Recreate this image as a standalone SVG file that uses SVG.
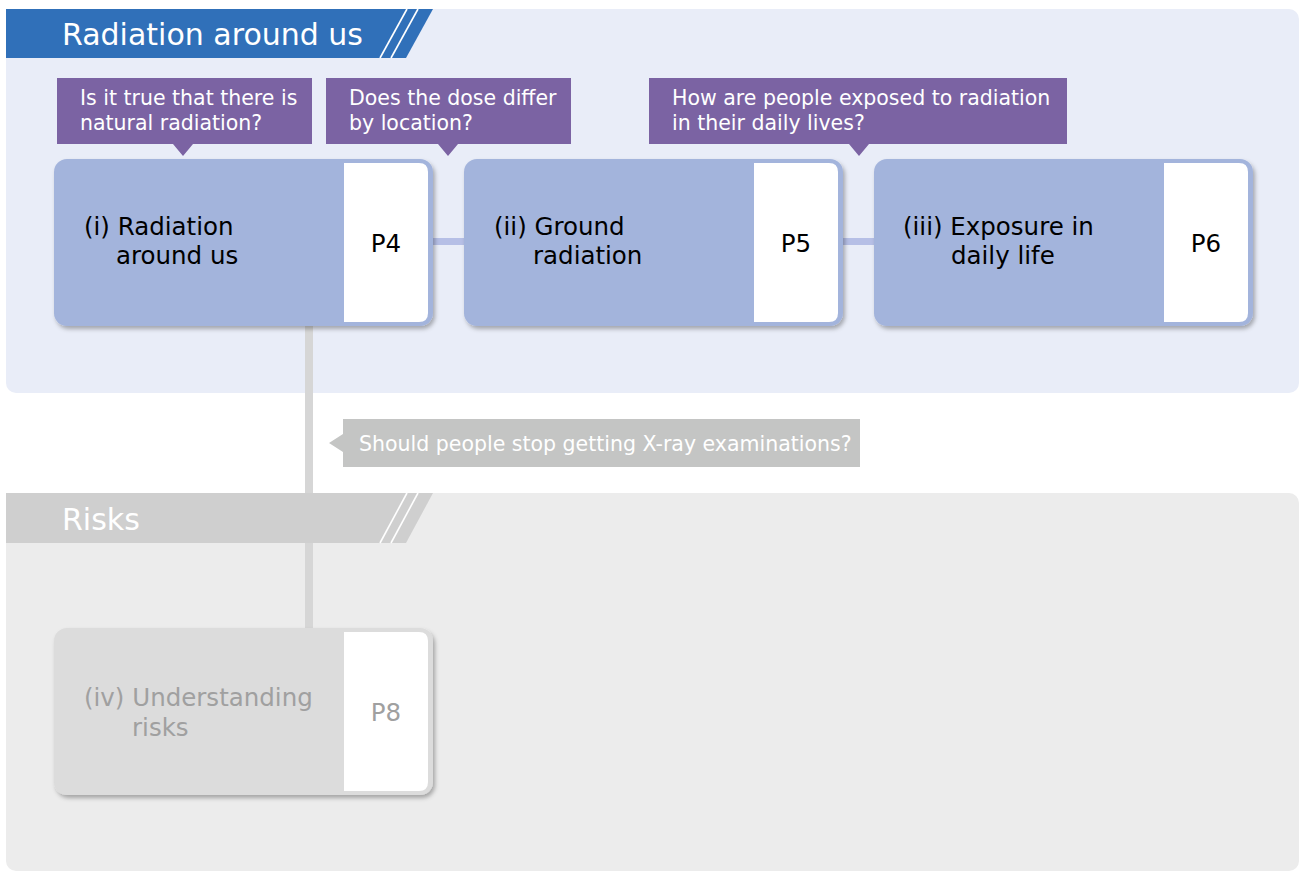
<svg xmlns="http://www.w3.org/2000/svg" width="1301" height="871" viewBox="0 0 1301 871">
<defs>
<filter id="sh" x="-5%" y="-5%" width="115%" height="120%">
<feDropShadow dx="2" dy="3" stdDeviation="2" flood-color="#000" flood-opacity="0.3"/>
</filter>
</defs>
<style>
text{font-family:"DejaVu Sans","Noto Sans",sans-serif;}
.title{font-size:30px;fill:#fff;}
.q{font-size:20.5px;fill:#fff;}
.nt{font-size:24.5px;fill:#000;}
.ntg{font-size:24.5px;fill:#a0a0a0;}
.pg{font-size:24.5px;fill:#000;text-anchor:middle;}
.pgg{font-size:24.5px;fill:#a0a0a0;text-anchor:middle;}
.purple{fill:#7b63a3;}
.nodeb{fill:#a3b4dc;filter:url(#sh);}
.nodeg{fill:#dcdcdc;filter:url(#sh);}
.slash{stroke:#fff;stroke-width:1.6;fill:none;}
</style>
<rect width="1301" height="871" fill="#fff"/>
<!-- panels -->
<g id="panel-top">
<rect x="6" y="9" width="1293" height="384" rx="10" fill="#e9edf8"/>
</g>
<g id="panel-risks">
<rect x="6" y="493" width="1293" height="378" rx="10" fill="#ececec"/>
</g>
<!-- connectors -->
<g id="connectors">
<rect x="433" y="238" width="31" height="7" fill="#b6bfe6"/>
<rect x="843" y="238" width="31" height="7" fill="#b6bfe6"/>
<rect x="305" y="326" width="8" height="302" fill="#d6d6d6"/>
</g>
<!-- title bars -->
<g id="title-top">
<polygon points="6,9 433,9 406,58 6,58" fill="#3070b9"/>
<line class="slash" x1="407" y1="9" x2="380" y2="58"/>
<line class="slash" x1="418" y1="9" x2="391" y2="58"/>
<text class="title" x="62" y="45">Radiation around us</text>
</g>
<g id="title-risks">
<polygon points="6,493 433,493 406,543 6,543" fill="#cfcfcf"/>
<line class="slash" x1="407" y1="493" x2="380" y2="543"/>
<line class="slash" x1="418" y1="493" x2="391" y2="543"/>
<text class="title" x="62" y="530">Risks</text>
</g>
<!-- callouts -->
<g id="q1">
<path class="purple" d="M57,78 H312 V144 H193 L183,156 L173,144 H57 Z"/>
<text class="q" x="80" y="105">Is it true that there is</text>
<text class="q" x="80" y="130">natural radiation?</text>
</g>
<g id="q2">
<path class="purple" d="M326,78 H571 V144 H458 L448,156 L438,144 H326 Z"/>
<text class="q" x="349" y="105">Does the dose differ</text>
<text class="q" x="349" y="130">by location?</text>
</g>
<g id="q3">
<path class="purple" d="M649,78 H1067 V144 H869 L859,156 L849,144 H649 Z"/>
<text class="q" x="672" y="105">How are people exposed to radiation</text>
<text class="q" x="672" y="130">in their daily lives?</text>
</g>
<g id="q4">
<path d="M343,419 H860 V467 H343 V452 L329,443 L343,434 Z" fill="#c4c5c4"/>
<text class="q" x="359" y="451">Should people stop getting X-ray examinations?</text>
</g>
<!-- nodes -->
<g id="node1">
<rect class="nodeb" x="54" y="159" width="379" height="167" rx="13"/>
<path d="M344,163 H419 Q428,163 428,172 V313 Q428,322 419,322 H344 Z" fill="#fff"/>
<text class="nt" x="84" y="235">(i) Radiation</text>
<text class="nt" x="116" y="264">around us</text>
<text class="pg" x="386" y="252">P4</text>
</g>
<g id="node2">
<rect class="nodeb" x="464" y="159" width="379" height="167" rx="13"/>
<path d="M754,163 H829 Q838,163 838,172 V313 Q838,322 829,322 H754 Z" fill="#fff"/>
<text class="nt" x="494" y="235">(ii) Ground</text>
<text class="nt" x="533" y="264">radiation</text>
<text class="pg" x="796" y="252">P5</text>
</g>
<g id="node3">
<rect class="nodeb" x="874" y="159" width="379" height="167" rx="13"/>
<path d="M1164,163 H1239 Q1248,163 1248,172 V313 Q1248,322 1239,322 H1164 Z" fill="#fff"/>
<text class="nt" x="903" y="235">(iii) Exposure in</text>
<text class="nt" x="951" y="264">daily life</text>
<text class="pg" x="1206" y="252">P6</text>
</g>
<g id="node4">
<rect class="nodeg" x="54" y="628" width="379" height="167" rx="13"/>
<path d="M344,632 H419 Q428,632 428,641 V782 Q428,791 419,791 H344 Z" fill="#fff"/>
<text class="ntg" x="84" y="706">(iv) Understanding</text>
<text class="ntg" x="132" y="736">risks</text>
<text class="pgg" x="386" y="721">P8</text>
</g>
</svg>
